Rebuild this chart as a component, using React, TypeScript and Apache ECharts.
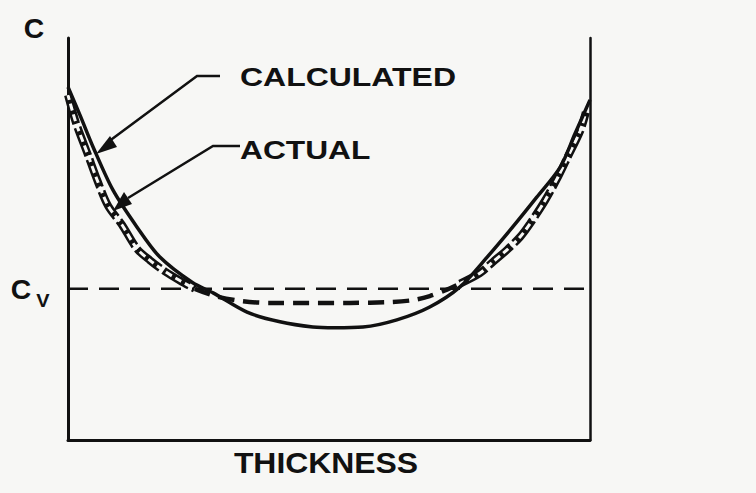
import React, { useEffect, useRef } from "react";
import * as echarts from "echarts";

// thickness (0..100 across the section) and C value (0..100 of the plot height)
const calcThickness = [0, 2.3, 4.8, 8.6, 13.2, 17.6, 23.9, 27.8, 34.3, 40.6, 46.9, 51.1, 56.5, 63.0, 69.3, 75.1, 80.3, 85.2, 89.8, 94.3, 97.1, 100];
const calcValues = [87.8, 80.8, 72.9, 62.2, 53.0, 45.5, 39.1, 36.6, 31.8, 29.4, 28.1, 27.9, 28.1, 29.9, 33.1, 38.1, 45.5, 53.0, 60.4, 67.9, 76.1, 84.6];

// "actual" curve, split into its hatched left branch, dashed bottom and hatched right branch
const actualLeftThickness = [0, 1.5, 3.8, 5.7, 7.7, 10.3, 13.2, 15.7, 18.6, 21.5, 24.3];
const actualLeftValues = [85.8, 79.0, 71.0, 64.3, 58.2, 53.6, 47.6, 44.7, 41.9, 39.6, 37.6];
const actualBottomThickness = [24.3, 28.2, 33.0, 38.7, 46.4, 54.0, 61.7, 66.1, 69.3, 72.2, 75.1];
const actualBottomValues = [37.6, 35.8, 34.6, 34.1, 34.1, 34.1, 34.3, 34.8, 35.8, 37.2, 38.9];
const actualRightThickness = [75.1, 78.9, 81.4, 84.1, 86.6, 88.5, 91.4, 93.9, 95.8, 98.1, 99.2];
const actualRightValues = [38.9, 41.5, 44.3, 47.3, 50.5, 53.8, 59.6, 65.5, 70.6, 76.8, 81.5];

const cvValue = 37.6;
const cvRange = [0, 100];

const labels = {
  yTop: "C",
  cv: "C",
  cvSub: "V",
  calculated: "CALCULATED",
  actual: "ACTUAL",
  xName: "THICKNESS",
};

const INK = "#111111";
const PAPER = "#f7f7f5";
const FONT = "Liberation Sans, Arial, sans-serif";

const pairs = (xs: number[], ys: number[]) => xs.map((x, i) => [x, ys[i]]);

export default function App() {
  const ref = useRef<HTMLDivElement>(null);

  useEffect(() => {
    if (!ref.current) return;
    const chart = echarts.init(ref.current, undefined, { renderer: "svg" });

    const text = (x: number, y: number, t: string, size: number, sx: number, align = "left") => ({
      type: "text",
      x,
      y,
      scaleX: sx,
      style: {
        text: t,
        fill: INK,
        font: `bold ${size}px ${FONT}`,
        textAlign: align,
        textVerticalAlign: "middle",
      },
    });

    const ladder = (name: string, data: number[][]) => [
      {
        name,
        type: "line",
        symbol: "none",
        smooth: 0.3,
        data,
        lineStyle: { color: INK, width: 8, type: [30, 4] },
      },
      {
        name: name + " inner",
        type: "line",
        symbol: "none",
        smooth: 0.3,
        data,
        lineStyle: { color: PAPER, width: 3, type: [7, 4], dashOffset: 2 },
      },
    ];

    chart.setOption({
      animation: false,
      backgroundColor: PAPER,
      grid: { left: 68, right: 166, top: 38, bottom: 53 },
      xAxis: {
        type: "value",
        min: 0,
        max: 100,
        axisLine: { show: true, lineStyle: { color: INK, width: 3 } },
        axisTick: { show: false },
        axisLabel: { show: false },
        splitLine: { show: false },
      },
      yAxis: [
        {
          type: "value",
          min: 0,
          max: 100,
          axisLine: { show: true, lineStyle: { color: INK, width: 3 } },
          axisTick: { show: false },
          axisLabel: { show: false },
          splitLine: { show: false },
        },
        {
          type: "value",
          position: "right",
          min: 0,
          max: 100,
          axisLine: { show: true, lineStyle: { color: INK, width: 2.5 } },
          axisTick: { show: false },
          axisLabel: { show: false },
          splitLine: { show: false },
        },
      ],
      series: [
        {
          name: "Cv",
          type: "line",
          symbol: "none",
          data: cvRange.map((x) => [x, cvValue]),
          lineStyle: { color: INK, width: 2.5, type: [20, 11] },
        },
        ...ladder("Actual left", pairs(actualLeftThickness, actualLeftValues)),
        {
          name: "Actual bottom",
          type: "line",
          symbol: "none",
          smooth: 0.3,
          data: pairs(actualBottomThickness, actualBottomValues),
          lineStyle: { color: INK, width: 4.5, type: [16, 9] },
        },
        ...ladder("Actual right", pairs(actualRightThickness, actualRightValues)),
        {
          name: "Calculated",
          type: "line",
          symbol: "none",
          smooth: 0.3,
          data: pairs(calcThickness, calcValues),
          lineStyle: { color: INK, width: 3.5 },
        },
      ],
      graphic: [
        text(34, 29, labels.yTop, 27, 1.05, "center"),
        text(21, 290, labels.cv, 27, 1.05, "center"),
        text(43, 300, labels.cvSub, 19, 1.05, "center"),
        text(240, 77, labels.calculated, 26, 1.23),
        text(240, 150, labels.actual, 26, 1.22),
        text(326, 463, labels.xName, 29, 1.1, "center"),
        {
          type: "polyline",
          shape: { points: [[220, 76], [197, 76], [108, 142]] },
          style: { stroke: INK, lineWidth: 2.5, fill: null },
        },
        {
          type: "polygon",
          shape: { points: [[96, 154], [110, 136], [117, 147]] },
          style: { fill: INK },
        },
        {
          type: "polyline",
          shape: { points: [[240, 146], [213, 146], [128, 198]] },
          style: { stroke: INK, lineWidth: 2.5, fill: null },
        },
        {
          type: "polygon",
          shape: { points: [[113, 211], [124, 192], [132, 204]] },
          style: { fill: INK },
        },
      ],
    });

    return () => chart.dispose();
  }, []);

  return (
    <div
      ref={ref}
      style={{ position: "absolute", left: 0, top: 0, width: 756, height: 493 }}
    />
  );
}
